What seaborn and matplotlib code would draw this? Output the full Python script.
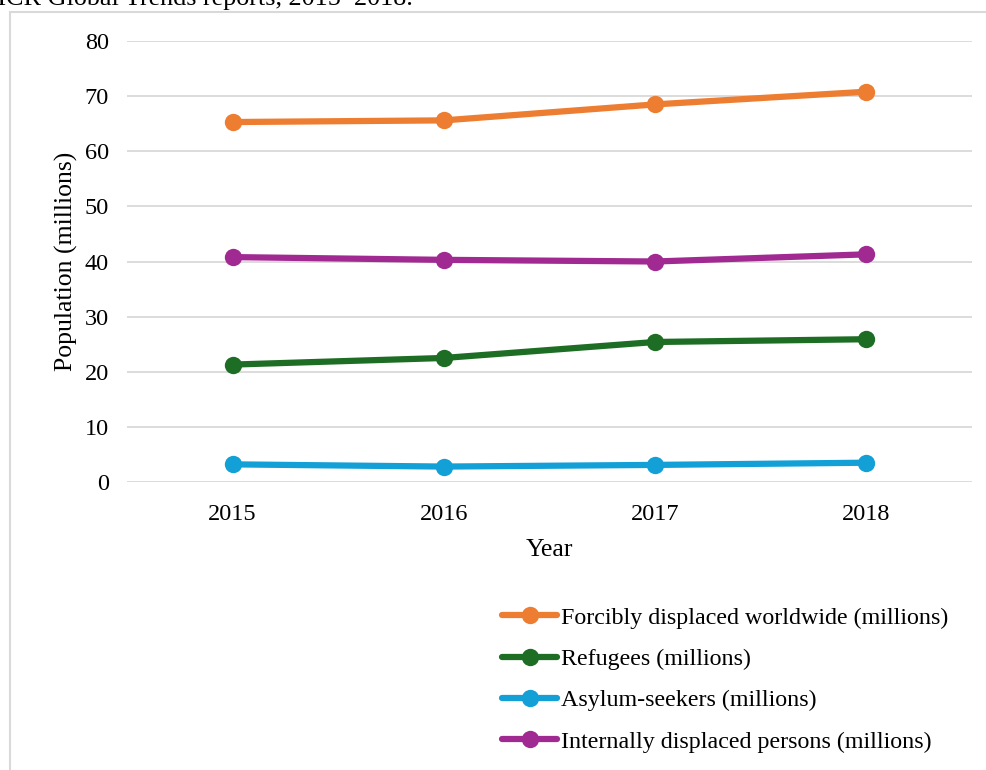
import matplotlib
matplotlib.use("Agg")
import matplotlib.pyplot as plt
import seaborn as sns
import pandas as pd
from matplotlib.lines import Line2D

years = ["2015", "2016", "2017", "2018"]
forcibly_displaced = [65.3, 65.6, 68.5, 70.8]
refugees = [21.3, 22.5, 25.4, 25.9]
asylum_seekers = [3.2, 2.8, 3.1, 3.5]
idps = [40.8, 40.3, 40.0, 41.3]

series_names = [
    "Forcibly displaced worldwide (millions)",
    "Refugees (millions)",
    "Asylum-seekers (millions)",
    "Internally displaced persons (millions)",
]
series_values = [forcibly_displaced, refugees, asylum_seekers, idps]
colors = ["#ED7D31", "#1D6E24", "#13A0D7", "#A12A92"]

rows = []
for name, vals in zip(series_names, series_values):
    for y, v in zip(years, vals):
        rows.append({"Year": y, "Value": v, "Series": name})
df = pd.DataFrame(rows)

sns.set_theme(style="white")
plt.rcParams["font.family"] = ["Liberation Serif", "DejaVu Serif"]
plt.rcParams["text.color"] = "black"
plt.rcParams["axes.labelcolor"] = "black"

fig = plt.figure(figsize=(9.86, 7.70), dpi=100)
ax = fig.add_axes([127/986, 1-482/770, (972-127)/986, (482-41)/770])

sns.lineplot(data=df, x="Year", y="Value", hue="Series", hue_order=series_names,
             palette=colors, marker="o", markersize=12.5, linewidth=4.5,
             markeredgewidth=0, ax=ax, sort=False, legend=False)

ax.set_xlim(-0.5, 3.5)
ax.set_ylim(0, 80)
ax.set_yticks(range(0, 81, 10))
ax.yaxis.grid(True, color="#D9D9D9", linewidth=1.3)
ax.xaxis.grid(False)
for s in ax.spines.values():
    s.set_visible(False)
ax.tick_params(axis="both", labelsize=17.5, colors="black", length=0)
ax.tick_params(axis="y", pad=13)
ax.tick_params(axis="x", pad=16)
ax.set_xlabel("Year", fontsize=18.5, labelpad=10)
ax.set_ylabel("Population (millions)", fontsize=18.5, labelpad=5)

handles = [Line2D([0], [0], color=c, linewidth=4.5, marker="o", markersize=12.5,
                  markeredgewidth=0) for c in colors]
fig.legend(handles, series_names, loc="upper left",
           bbox_to_anchor=(502/986, 1-607/770), frameon=False, fontsize=17.3,
           handlelength=2.3, handletextpad=0.15, labelspacing=0.81,
           borderpad=0, borderaxespad=0)

# outer chart frame
fig.add_artist(Line2D([10/986, 1.0], [1-12/770, 1-12/770], color="#D9D9D9",
                      linewidth=1.5, transform=fig.transFigure))
fig.add_artist(Line2D([10/986, 10/986], [0, 1-12/770], color="#D9D9D9",
                      linewidth=1.5, transform=fig.transFigure))

fig.text(413/986, 1-5/770, "Source: UNHCR Global Trends reports, 2015\u20132018.",
         ha="right", va="baseline", fontsize=18.8)

fig.savefig("out.png", dpi=100)
